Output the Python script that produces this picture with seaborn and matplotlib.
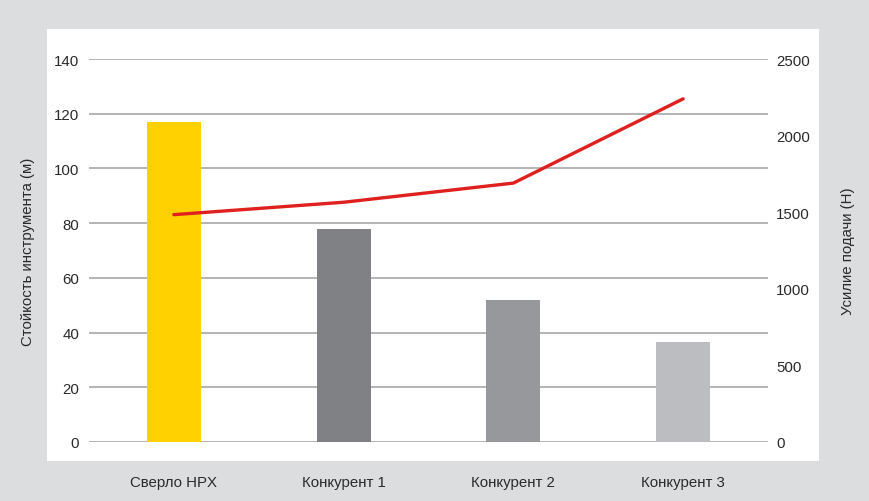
import matplotlib
matplotlib.use("Agg")
import matplotlib.pyplot as plt
import seaborn as sns
import numpy as np
import pandas as pd
from matplotlib.patches import Rectangle

categories = ["Сверло HPX", "Конкурент 1", "Конкурент 2", "Конкурент 3"]
tool_life = [117, 78, 52, 36.7]          # Стойкость инструмента (м)
feed_force = [1484, 1565, 1690, 2240]    # Усилие подачи (Н)
left_ticks = [0, 20, 40, 60, 80, 100, 120, 140]
right_ticks = [0, 500, 1000, 1500, 2000, 2500]
bar_colors = ["#FFD100", "#808184", "#97989B", "#BCBDC0"]
line_color = "#E0201F"
text_color = "#2a2a2a"

sns.set_theme(style="white")
plt.rcParams["font.family"] = ["Liberation Sans", "DejaVu Sans"]

W, H = 870, 502
fs = 10.8
fig = plt.figure(figsize=(W / 100, H / 100), dpi=100)
fig.patch.set_facecolor("#DCDDDF")
# white panel
fig.patches.append(Rectangle((47 / W, 1 - 462 / H), (819 - 47) / W, (462 - 30) / H,
                             transform=fig.transFigure, facecolor="white",
                             edgecolor="none", zorder=-5))

ax = fig.add_axes([89 / W, 1 - 443 / H, (768 - 89) / W, (443 - 60) / H])
ax.set_facecolor("none")
ax.set_zorder(1)

df = pd.DataFrame({"cat": categories, "life": tool_life})
sns.barplot(data=df, x="cat", y="life", hue="cat", palette=bar_colors,
            width=0.318, legend=False, ax=ax, zorder=3, saturation=1,
            linewidth=0, edgecolor="none")

ax.set_xlim(-0.5, len(categories) - 0.5)
ax.set_ylim(0, 140)
ax.set_yticks(left_ticks)
ax.yaxis.grid(True, color="#A8A8A8", linewidth=1.2, zorder=0)
ax.set_axisbelow(True)
for s in ax.spines.values():
    s.set_visible(False)
ax.tick_params(axis="both", length=0, labelsize=fs, labelcolor=text_color)
ax.tick_params(axis="y", pad=7)
ax.tick_params(axis="x", pad=24)
ax.set_xlabel("")
ax.set_ylabel("Стойкость инструмента (м)", fontsize=fs, color=text_color, va="center")
ax.yaxis.set_label_coords((28 - 89) / (768 - 89), 0.5)

ax2 = ax.twinx()
ax2.set_zorder(2)
ax2.set_facecolor("none")
sns.lineplot(x=np.arange(len(categories)), y=feed_force, color=line_color,
             linewidth=2.4, ax=ax2, zorder=5)
ax2.set_ylim(0, 2500)
ax2.set_yticks(right_ticks)
ax2.set_xlim(-0.5, len(categories) - 0.5)
for s in ax2.spines.values():
    s.set_visible(False)
ax2.tick_params(axis="y", length=0, labelsize=fs, labelcolor=text_color, pad=6)
ax2.set_ylabel("Усилие подачи (Н)", fontsize=fs, color=text_color, rotation=90, va="center")
ax2.yaxis.set_label_coords((848 - 89) / (768 - 89), 0.5)

fig.savefig("out.png", dpi=100, facecolor=fig.get_facecolor())
